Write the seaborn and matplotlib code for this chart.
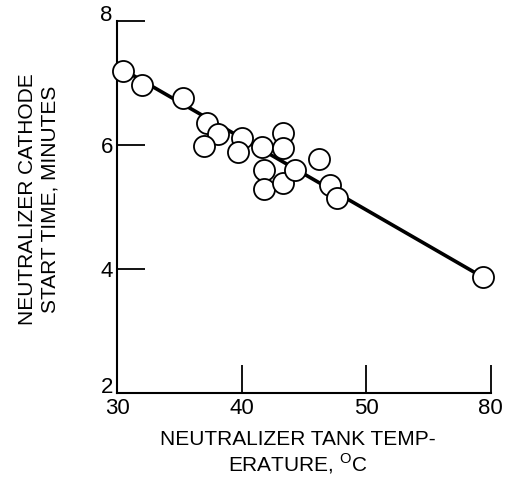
import numpy as np
import pandas as pd
import seaborn as sns
import matplotlib.pyplot as plt

# data (tank temperature in deg C, start time in minutes)
temp = [30.5, 32.0, 35.3, 37.2, 38.1, 37.0, 40.0, 39.7, 41.6, 41.8, 41.8,
        43.3, 43.3, 43.3, 44.3, 46.2, 47.1, 47.7, 59.4]
start_time = [7.19, 6.97, 6.76, 6.35, 6.17, 5.98, 6.11, 5.88, 5.97, 5.59, 5.28,
              6.19, 5.95, 5.39, 5.60, 5.77, 5.35, 5.14, 3.86]

# fitted line end points
fit_temp = [30.5, 59.4]
fit_time = [7.21, 3.86]

x_ticks = [30, 40, 50, 60]
x_tick_labels = ["30", "40", "50", "80"]
y_ticks = [2, 4, 6, 8]

sns.set_style("ticks", rc={"text.color": "black", "axes.labelcolor": "black",
                           "xtick.color": "black", "ytick.color": "black",
                           "axes.edgecolor": "black"})
plt.rcParams['font.family'] = ['Liberation Sans', 'DejaVu Sans']

df = pd.DataFrame({"temp": temp, "time": start_time})
fit = pd.DataFrame({"temp": fit_temp, "time": fit_time})

fig = plt.figure(figsize=(5.05, 4.91), dpi=100)
ax = fig.add_axes([0.2317, 0.2002, 0.74, 0.7576])

sns.lineplot(data=fit, x="temp", y="time", ax=ax, color="black", linewidth=2.6, zorder=2)
sns.scatterplot(data=df, x="temp", y="time", ax=ax, s=230, facecolor="white",
                edgecolor="black", linewidth=1.3, zorder=3, clip_on=False)

ax.set_xlim(30, 60)
ax.set_ylim(2, 8)
ax.set_xticks(x_ticks)
ax.set_xticklabels(x_tick_labels)
ax.set_yticks(y_ticks)
ax.tick_params(direction="in", length=20, width=1.3, labelsize=16, pad=3)
ax.tick_params(axis="x", pad=4)

# end labels on the y axis sit a little above their ticks
for lab in ax.get_yticklabels():
    if lab.get_text() in ("2", "8"):
        lab.set_va("baseline")

for side in ["top", "right"]:
    ax.spines[side].set_visible(False)
for side in ["left", "bottom"]:
    ax.spines[side].set_linewidth(1.5)

ax.set_xlabel("NEUTRALIZER TANK TEMP-\nERATURE, $^\\mathregular{O}$C", fontsize=15,
              linespacing=1.15)
ax.set_ylabel("NEUTRALIZER CATHODE\nSTART TIME, MINUTES", fontsize=15, linespacing=1.2)
ax.xaxis.set_label_coords(0.483, -0.1, transform=ax.transAxes)
ax.xaxis.label.set_va("top")
ax.yaxis.set_label_coords(-0.21, 0.52)
ax.yaxis.label.set_va("center")

fig.savefig("out.png", dpi=100)
